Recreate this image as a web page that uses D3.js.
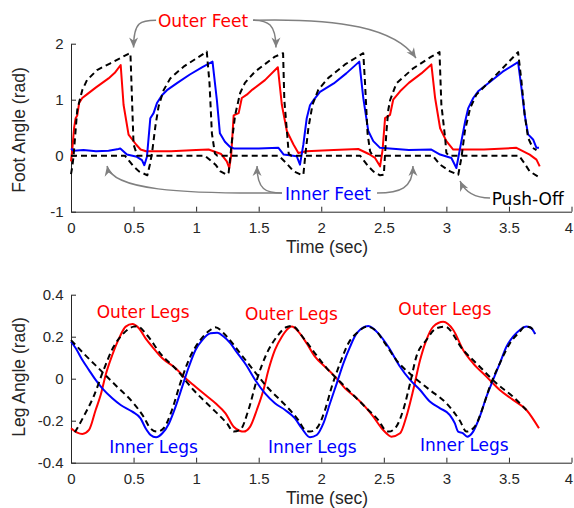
<!DOCTYPE html>
<html>
<head>
<meta charset="utf-8">
<script src="https://cdn.jsdelivr.net/npm/d3@7"></script>
<style>
  html, body { margin: 0; padding: 0; background: #fff; }
  svg { display: block; }
</style>
</head>
<body>
<div id="chart"></div>
<script>
// ---------------- DATA ----------------
const xTicks = [0, 0.5, 1, 1.5, 2, 2.5, 3, 3.5, 4];
const footTicks = [-1, 0, 1, 2];
const legTicks = [-0.4, -0.2, 0, 0.2, 0.4];

// Foot angle (rad) vs time (sec)
const outerFoot = [[0,-0.1],[0.01,0.1],[0.025,0.5],[0.037,0.67],[0.05,0.72],[0.065,0.94],[0.09,1.03],[0.13,1.1],[0.2,1.22],[0.3,1.38],[0.35,1.48],[0.397,1.62],[0.42,0.91],[0.46,0.375],[0.52,0.2],[0.556,0.11],[0.6,0.08],[0.8,0.08],[1.0,0.1],[1.1,0.11],[1.2,0.03],[1.245,-0.1],[1.265,-0.22],[1.28,0.0],[1.3,0.72],[1.34,0.76],[1.365,1.03],[1.405,1.09],[1.45,1.18],[1.55,1.35],[1.653,1.58],[1.685,0.91],[1.725,0.44],[1.778,0.2],[1.817,0.05],[1.88,0.08],[2.1,0.1],[2.296,0.12],[2.38,0.03],[2.43,-0.04],[2.47,-0.19],[2.49,0.1],[2.51,0.67],[2.55,0.73],[2.575,1.0],[2.63,1.15],[2.7,1.3],[2.8,1.47],[2.88,1.63],[2.91,1.03],[2.95,0.49],[3.0,0.26],[3.055,0.11],[3.3,0.11],[3.56,0.14],[3.666,0.02],[3.72,-0.07],[3.746,-0.19]];
const innerFoot = [[0,0.13],[0.02,0.09],[0.1,0.1],[0.2,0.08],[0.3,0.09],[0.38,0.12],[0.394,0.13],[0.447,0.02],[0.527,-0.02],[0.567,-0.08],[0.586,-0.17],[0.607,-0.02],[0.634,0.67],[0.66,0.76],[0.687,0.94],[0.727,1.08],[0.767,1.17],[0.85,1.3],[0.95,1.45],[1.05,1.58],[1.131,1.68],[1.166,0.99],[1.19,0.4],[1.23,0.25],[1.27,0.16],[1.3,0.13],[1.5,0.13],[1.658,0.14],[1.7,0.02],[1.804,-0.01],[1.83,-0.16],[1.857,0.2],[1.884,0.67],[1.91,0.9],[1.937,0.99],[1.99,1.14],[2.1,1.29],[2.2,1.47],[2.304,1.68],[2.336,1.03],[2.376,0.44],[2.416,0.26],[2.47,0.14],[2.7,0.1],[2.88,0.11],[2.95,0.02],[3.04,-0.04],[3.08,-0.22],[3.11,0.14],[3.15,0.61],[3.175,0.85],[3.215,1.03],[3.254,1.15],[3.35,1.32],[3.45,1.5],[3.573,1.67],[3.6,1.21],[3.626,0.73],[3.653,0.38],[3.693,0.29],[3.72,0.14],[3.74,0.14]];
const outerFootRef = [[0,-0.33],[0.01,-0.2],[0.02,-0.02],[0.05,0.82],[0.09,1.17],[0.128,1.35],[0.208,1.53],[0.315,1.65],[0.46,1.82],[0.475,1.83],[0.5,0.2],[0.53,0.0],[0.6,0.0],[1.07,0.0],[1.155,-0.16],[1.195,-0.28],[1.245,-0.34],[1.26,-0.3],[1.286,0.26],[1.312,0.73],[1.352,1.12],[1.39,1.3],[1.47,1.5],[1.63,1.77],[1.695,1.83],[1.705,0.99],[1.73,0.32],[1.74,0.03],[1.76,0],[2.31,0],[2.376,-0.19],[2.416,-0.28],[2.47,-0.35],[2.5,-0.34],[2.52,0.4],[2.536,0.82],[2.55,0.99],[2.6,1.29],[2.735,1.56],[2.88,1.77],[2.945,1.85],[2.96,0.91],[2.99,0.32],[3.0,0.05],[3.02,0],[3.58,0],[3.613,-0.1],[3.666,-0.28],[3.73,-0.37]];
const innerFootRef = [[0,0],[0.43,0],[0.5,-0.19],[0.543,-0.28],[0.61,-0.35],[0.63,-0.16],[0.647,0.04],[0.674,0.52],[0.7,0.88],[0.74,1.17],[0.793,1.38],[0.9,1.59],[1.073,1.84],[1.085,1.86],[1.107,1.29],[1.126,0.4],[1.15,0.04],[1.17,0],[1.66,0],[1.72,-0.13],[1.78,-0.28],[1.84,-0.34],[1.857,-0.34],[1.876,0.08],[1.897,0.49],[1.93,0.91],[1.977,1.18],[2.057,1.39],[2.19,1.63],[2.336,1.83],[2.35,1.29],[2.37,0.4],[2.39,0.08],[2.41,0],[2.89,0],[2.95,-0.16],[3.03,-0.28],[3.095,-0.34],[3.12,-0.04],[3.148,0.44],[3.19,0.85],[3.24,1.09],[3.347,1.33],[3.453,1.57],[3.573,1.85],[3.6,1.33],[3.626,0.73],[3.653,0.32],[3.69,0.14],[3.72,0.1]];

// Leg angle (rad) vs time (sec)
const outerLeg = [[0,-0.236],[0.05,-0.257],[0.091,-0.263],[0.144,-0.244],[0.197,-0.149],[0.237,-0.078],[0.277,0.018],[0.33,0.113],[0.384,0.192],[0.437,0.248],[0.49,0.26],[0.543,0.24],[0.596,0.192],[0.65,0.152],[0.73,0.097],[0.836,0.05],[0.915,0.002],[0.995,-0.038],[1.075,-0.078],[1.155,-0.117],[1.235,-0.165],[1.3,-0.229],[1.352,-0.249],[1.378,-0.252],[1.432,-0.228],[1.485,-0.149],[1.538,-0.054],[1.578,0.041],[1.63,0.137],[1.685,0.2],[1.738,0.24],[1.765,0.248],[1.817,0.224],[1.884,0.168],[1.95,0.105],[2.03,0.057],[2.11,0.01],[2.19,-0.046],[2.27,-0.086],[2.35,-0.133],[2.416,-0.181],[2.483,-0.236],[2.536,-0.268],[2.56,-0.276],[2.63,-0.26],[2.68,-0.181],[2.735,-0.054],[2.79,0.089],[2.84,0.184],[2.895,0.248],[2.975,0.271],[3.055,0.232],[3.134,0.137],[3.214,0.073],[3.32,0.01],[3.427,-0.054],[3.533,-0.101],[3.64,-0.149],[3.74,-0.236]];
const innerLeg = [[0,0.176],[0.038,0.145],[0.091,0.089],[0.144,0.041],[0.197,-0.006],[0.25,-0.046],[0.33,-0.093],[0.397,-0.125],[0.49,-0.157],[0.556,-0.189],[0.596,-0.236],[0.636,-0.268],[0.68,-0.279],[0.73,-0.26],[0.783,-0.213],[0.836,-0.133],[0.889,-0.038],[0.942,0.057],[0.995,0.137],[1.049,0.184],[1.115,0.216],[1.168,0.219],[1.222,0.2],[1.275,0.168],[1.32,0.13],[1.4,0.065],[1.472,-0.006],[1.551,-0.07],[1.63,-0.117],[1.711,-0.149],[1.79,-0.189],[1.844,-0.236],[1.91,-0.279],[1.964,-0.268],[2.017,-0.213],[2.07,-0.117],[2.124,-0.022],[2.177,0.073],[2.23,0.152],[2.283,0.216],[2.376,0.251],[2.456,0.216],[2.536,0.152],[2.63,0.057],[2.71,-0.006],[2.79,-0.054],[2.87,-0.11],[2.95,-0.141],[3.028,-0.173],[3.068,-0.213],[3.094,-0.252],[3.134,-0.26],[3.166,-0.276],[3.214,-0.252],[3.267,-0.181],[3.32,-0.086],[3.373,-0.006],[3.427,0.073],[3.48,0.152],[3.533,0.2],[3.587,0.232],[3.64,0.248],[3.68,0.24],[3.71,0.212]];
const outerLegRef = [[0.03,-0.255],[0.05,-0.236],[0.1,-0.181],[0.18,-0.086],[0.26,0.041],[0.34,0.152],[0.42,0.216],[0.5,0.248],[0.53,0.25],[0.607,0.208],[0.713,0.121],[0.847,0.041],[0.979,-0.054],[1.113,-0.133],[1.246,-0.213],[1.3,-0.252],[1.352,-0.244],[1.418,-0.149],[1.485,-0.006],[1.565,0.121],[1.645,0.2],[1.72,0.245],[1.765,0.251],[1.87,0.184],[1.95,0.121],[2.057,0.041],[2.163,-0.022],[2.27,-0.086],[2.376,-0.149],[2.456,-0.197],[2.51,-0.244],[2.54,-0.252],[2.6,-0.228],[2.655,-0.149],[2.71,-0.022],[2.76,0.105],[2.84,0.184],[2.92,0.24],[2.988,0.248],[3.134,0.137],[3.267,0.057],[3.4,-0.022],[3.533,-0.086],[3.64,-0.149]];
const innerLegRef = [[0,0.184],[0.1,0.121],[0.235,0.041],[0.368,-0.038],[0.5,-0.117],[0.58,-0.181],[0.634,-0.236],[0.687,-0.252],[0.74,-0.236],[0.807,-0.149],[0.873,-0.022],[0.953,0.105],[1.033,0.184],[1.113,0.232],[1.152,0.245],[1.246,0.2],[1.352,0.121],[1.458,0.041],[1.565,-0.038],[1.698,-0.117],[1.817,-0.197],[1.87,-0.244],[1.91,-0.252],[1.964,-0.236],[2.03,-0.149],[2.084,-0.038],[2.15,0.073],[2.216,0.168],[2.296,0.224],[2.363,0.248],[2.43,0.232],[2.51,0.168],[2.6,0.089],[2.735,0.01],[2.868,-0.054],[3.0,-0.117],[3.108,-0.2],[3.16,-0.252],[3.227,-0.228],[3.294,-0.133],[3.347,-0.038],[3.427,0.073],[3.507,0.168],[3.587,0.224],[3.627,0.248],[3.67,0.245],[3.706,0.216]];

// Annotations (data units)
const footLabels = [
  {text: "Outer Feet", t: 0.695, v: 2.298, color: "#ff0000"},
  {text: "Inner Feet", t: 1.71, v: -0.791, color: "#0000ff"},
  {text: "Push-Off", t: 3.362, v: -0.88, color: "#000000"}
];
const footArrows = [
  [[0.68,2.42],[0.56,2.42],[0.50,2.40],[0.50,1.93]],
  [[1.4545,2.42],[1.574,2.42],[1.638,2.35],[1.638,1.93]],
  [[1.4545,2.42],[2.15,2.46],[2.59,2.28],[2.757,1.745]],
  [[1.686,-0.666],[0.871,-0.684],[0.328,-0.6125],[0.288,-0.184]],
  [[1.686,-0.666],[1.558,-0.666],[1.487,-0.6125],[1.487,-0.184]],
  [[2.4456,-0.666],[2.629,-0.666],[2.733,-0.577],[2.733,-0.184]],
  [[3.349,-0.755],[3.229,-0.755],[3.149,-0.648],[3.109,-0.452]]
];
const legLabels = [
  {text: "Outer Legs", t: 0.205, v: 0.289, color: "#ff0000"},
  {text: "Outer Legs", t: 1.39, v: 0.2795, color: "#ff0000"},
  {text: "Outer Legs", t: 2.616, v: 0.303, color: "#ff0000"},
  {text: "Inner Legs", t: 0.306, v: -0.352, color: "#0000ff"},
  {text: "Inner Legs", t: 1.574, v: -0.352, color: "#0000ff"},
  {text: "Inner Legs", t: 2.789, v: -0.344, color: "#0000ff"}
];

// ---------------- DRAW ----------------
const W = 574, H = 508;
const svg = d3.select("#chart").append("svg").attr("width", W).attr("height", H)
  .style("background", "#fff");

const defs = svg.append("defs");
defs.append("marker").attr("id", "ah")
  .attr("viewBox", "-12 -6 14 12").attr("refX", 0).attr("refY", 0)
  .attr("markerWidth", 14).attr("markerHeight", 12)
  .attr("markerUnits", "userSpaceOnUse").attr("orient", "auto")
  .append("path").attr("d", "M0,0 L-10,-4.5 L-7,0 L-10,4.5 Z").attr("fill", "#808080");

const x = d3.scaleLinear().domain([0, 4]).range([71, 571.5]);
const yTop = d3.scaleLinear().domain([-1, 2]).range([211.7, 43.7]);
const yBot = d3.scaleLinear().domain([-0.4, 0.4]).range([462.7, 294.7]);

const tickFont = "'Liberation Sans', Arial, Helvetica, sans-serif";
const annFont = "'DejaVu Sans', Verdana, sans-serif";
const axisColor = "#262626";
const fmt = d => String(d);

function drawAxes(y, yTicksArr, ylabel, xlabelBaseline, ylabelCenter) {
  const gx = svg.append("g").attr("transform", `translate(0,${y.range()[0]})`)
    .call(d3.axisBottom(x).tickValues(xTicks).tickSize(-5).tickSizeOuter(0).tickPadding(11).tickFormat(fmt));
  const gy = svg.append("g").attr("transform", `translate(${x.range()[0]},0)`)
    .call(d3.axisLeft(y).tickValues(yTicksArr).tickSize(-5).tickSizeOuter(0).tickPadding(7.5).tickFormat(fmt));
  [gx, gy].forEach(g => {
    g.selectAll("path.domain").attr("stroke", axisColor).attr("stroke-width", 1);
    g.selectAll(".tick line").attr("stroke", axisColor).attr("stroke-width", 1);
    g.selectAll(".tick text").attr("fill", axisColor).style("font-family", tickFont).style("font-size", "15px");
  });
  // keep the last x tick label inside the canvas
  gx.selectAll(".tick text").filter(d => d === 4).attr("text-anchor", "end").attr("dx", "1");
  svg.append("text").attr("x", 327).attr("y", xlabelBaseline)
    .attr("text-anchor", "middle").attr("fill", axisColor)
    .style("font-family", tickFont).style("font-size", "17.5px").text("Time (sec)");
  svg.append("text").attr("transform", `translate(25,${ylabelCenter}) rotate(-90)`)
    .attr("text-anchor", "middle").attr("fill", axisColor)
    .style("font-family", tickFont).style("font-size", "17.5px").text(ylabel);
}

function drawLine(data, y, color, dashed, curve) {
  const line = d3.line().x(d => x(d[0])).y(d => y(d[1])).curve(curve || d3.curveLinear);
  svg.append("path").datum(data).attr("d", line)
    .attr("fill", "none").attr("stroke", color).attr("stroke-width", 2)
    .attr("stroke-linejoin", "round")
    .attr("stroke-dasharray", dashed ? "6,4" : null);
}

// Top panel
drawAxes(yTop, footTicks, "Foot Angle (rad)", 252.5, 130);
drawLine(outerFoot, yTop, "#ff0000", false);
drawLine(innerFoot, yTop, "#0000ff", false);
drawLine(outerFootRef, yTop, "#000000", true);
drawLine(innerFootRef, yTop, "#000000", true);

footArrows.forEach(a => {
  const p = d3.path();
  p.moveTo(x(a[0][0]), yTop(a[0][1]));
  p.bezierCurveTo(x(a[1][0]), yTop(a[1][1]), x(a[2][0]), yTop(a[2][1]), x(a[3][0]), yTop(a[3][1]));
  svg.append("path").attr("d", p.toString()).attr("fill", "none")
    .attr("stroke", "#808080").attr("stroke-width", 1.5).attr("marker-end", "url(#ah)");
});
footLabels.forEach(l => {
  svg.append("text").attr("x", x(l.t)).attr("y", yTop(l.v)).attr("fill", l.color)
    .style("font-family", annFont).style("font-size", "17px").text(l.text);
});

// Bottom panel
drawAxes(yBot, legTicks, "Leg Angle (rad)", 504.2, 377);
drawLine(outerLeg, yBot, "#ff0000", false, d3.curveMonotoneX);
drawLine(innerLeg, yBot, "#0000ff", false, d3.curveMonotoneX);
drawLine(outerLegRef, yBot, "#000000", true, d3.curveMonotoneX);
drawLine(innerLegRef, yBot, "#000000", true, d3.curveMonotoneX);
legLabels.forEach(l => {
  svg.append("text").attr("x", x(l.t)).attr("y", yBot(l.v)).attr("fill", l.color)
    .style("font-family", annFont).style("font-size", "17px").text(l.text);
});
</script>
</body>
</html>
